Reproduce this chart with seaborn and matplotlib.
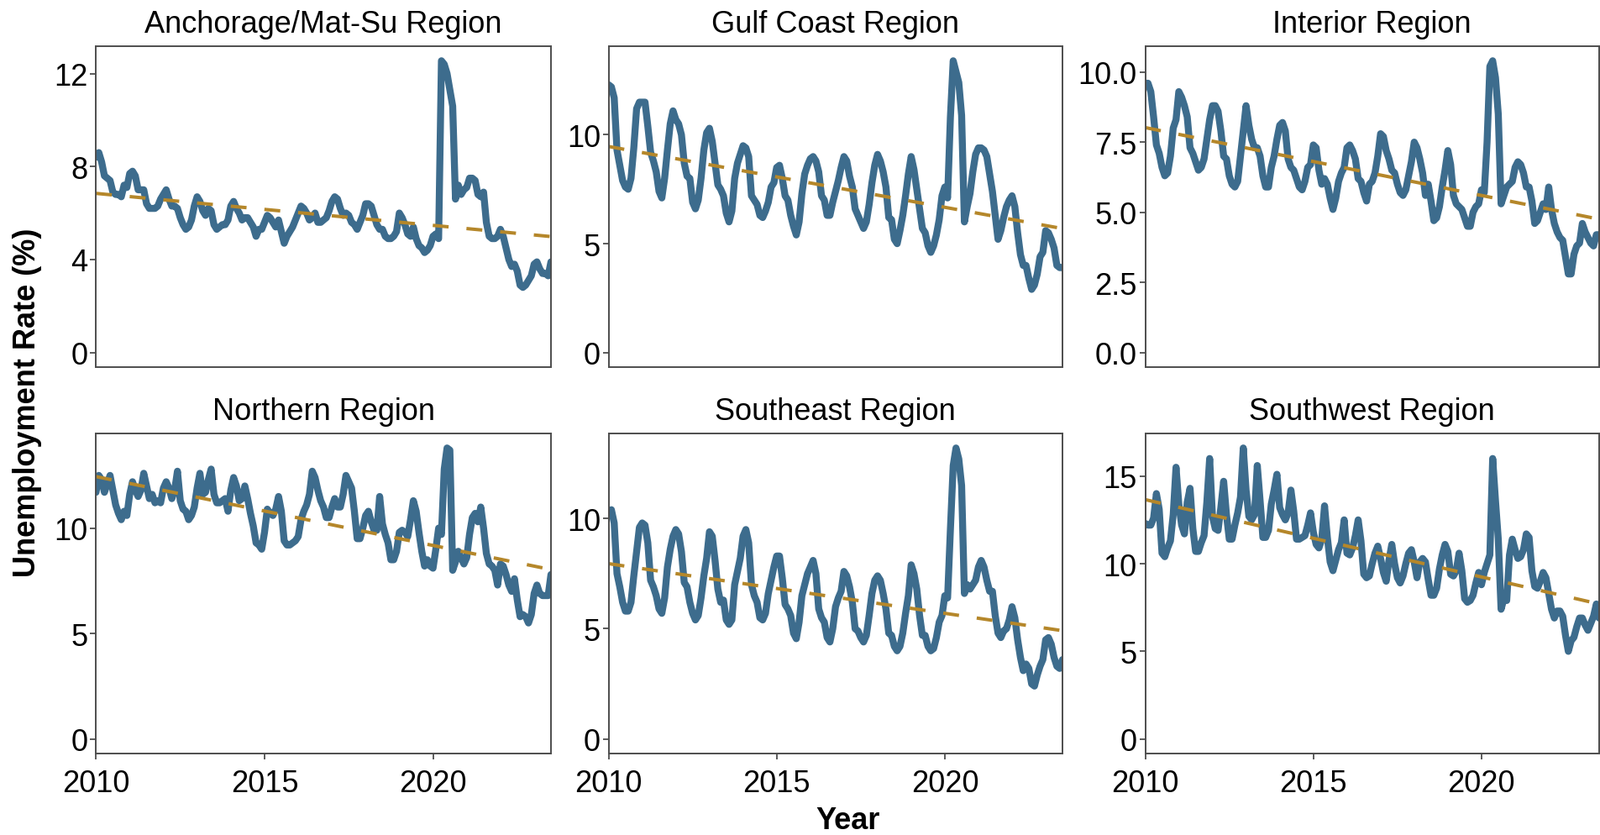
import numpy as np
import pandas as pd
import matplotlib
matplotlib.use("Agg")
import matplotlib.pyplot as plt
from matplotlib import font_manager
import seaborn as sns

# ---------------- data (monthly, Jan 2010 - Jul 2023) ----------------
regions = ["Anchorage/Mat-Su Region", "Gulf Coast Region", "Interior Region",
           "Northern Region", "Southeast Region", "Southwest Region"]

anchorage = [
    8.4, 8.6, 8.2, 7.6, 7.5, 7.4, 6.9, 6.8, 6.8, 6.7, 7.2, 7.1,
    7.7, 7.8, 7.6, 7.0, 7.0, 7.0, 6.4, 6.2, 6.2, 6.2, 6.3, 6.6,
    6.8, 7.0, 6.6, 6.3, 6.3, 6.2, 5.8, 5.5, 5.3, 5.4, 5.7, 6.3,
    6.7, 6.5, 6.1, 5.9, 6.2, 6.1, 5.5, 5.3, 5.4, 5.5, 5.5, 5.7,
    6.3, 6.5, 6.2, 6.0, 5.7, 5.8, 5.8, 5.6, 5.4, 5.0, 5.3, 5.3,
    5.6, 5.9, 5.8, 5.6, 5.4, 5.7, 5.2, 4.7, 5.0, 5.2, 5.4, 5.7,
    6.0, 6.3, 6.2, 6.0, 5.7, 5.8, 6.0, 5.6, 5.6, 5.7, 5.8, 6.1,
    6.5, 6.7, 6.6, 6.2, 5.9, 6.0, 5.9, 5.6, 5.5, 5.3, 5.6, 5.9,
    6.4, 6.4, 6.3, 5.9, 5.5, 5.3, 5.3, 5.0, 4.9, 4.9, 5.0, 5.2,
    6.0, 5.8, 5.5, 5.1, 5.0, 5.4, 4.9, 4.6, 4.5, 4.3, 4.4, 4.6,
    5.0, 5.1, 4.9, 12.55, 12.4, 12.0, 11.3, 10.6, 6.6, 7.2, 6.8, 7.0,
    7.1, 7.5, 7.5, 7.4, 6.8, 6.7, 6.9, 5.6, 5.0, 4.9, 4.9, 5.0,
    5.3, 5.0, 4.5, 4.0, 3.7, 3.8, 3.5, 2.9, 2.8, 2.9, 3.1, 3.3,
    3.8, 3.9, 3.6, 3.4, 3.4, 3.3, 3.9]

gulf_coast = [
    12.3, 12.2, 11.7, 9.3, 8.6, 7.9, 7.6, 7.5, 8.0, 9.4, 11.2, 11.5,
    11.5, 11.5, 10.4, 9.2, 8.8, 8.3, 7.4, 7.1, 8.0, 9.3, 10.5, 11.1,
    10.7, 10.5, 10.0, 8.7, 8.1, 8.0, 6.9, 6.6, 7.0, 8.0, 9.3, 10.1,
    10.3, 9.7, 8.7, 7.7, 7.5, 7.2, 6.4, 6.0, 6.5, 8.0, 8.7, 9.1,
    9.5, 9.4, 9.0, 7.2, 7.0, 6.8, 6.3, 6.2, 6.5, 6.9, 7.6, 7.8,
    8.5, 8.6, 8.0, 7.2, 7.0, 6.3, 5.8, 5.4, 6.0, 7.3, 8.2, 8.6,
    8.9, 9.0, 8.8, 8.3, 7.2, 7.0, 6.3, 6.3, 6.9, 7.4, 7.9, 8.5,
    9.0, 8.8, 8.1, 7.6, 6.6, 6.3, 6.0, 5.7, 6.0, 6.8, 7.8, 8.6,
    9.1, 8.8, 8.3, 7.6, 6.2, 6.1, 5.2, 5.0, 5.6, 6.3, 7.2, 8.2,
    9.0, 8.4, 7.5, 6.6, 5.7, 5.5, 4.9, 4.6, 4.9, 5.4, 6.1, 7.2,
    7.6, 7.1, 10.8, 13.4, 12.9, 12.4, 10.9, 6.0, 6.7, 7.3, 8.3, 9.1,
    9.4, 9.4, 9.3, 9.0, 8.2, 7.4, 6.3, 5.2, 5.6, 6.2, 6.7, 7.0,
    7.2, 6.7, 5.5, 4.5, 4.0, 4.0, 3.4, 2.9, 3.1, 3.6, 4.4, 4.6,
    5.6, 5.5, 5.2, 4.8, 4.0, 3.9, 3.9]

interior = [
    9.6, 9.6, 9.3, 8.4, 7.4, 7.1, 6.6, 6.3, 6.4, 7.0, 8.0, 8.3,
    9.3, 9.1, 8.8, 8.4, 7.3, 7.1, 6.8, 6.5, 6.6, 6.9, 7.6, 8.3,
    8.8, 8.8, 8.6, 7.9, 7.0, 6.9, 6.3, 6.0, 5.9, 6.1, 7.0, 7.9,
    8.8, 8.1, 7.6, 7.3, 7.3, 7.0, 6.3, 5.9, 5.9, 6.6, 7.0, 7.6,
    8.1, 8.2, 7.9, 6.9, 6.6, 6.5, 6.2, 5.9, 5.8, 6.1, 6.6, 6.7,
    7.4, 7.3, 6.5, 6.0, 6.2, 6.0, 5.5, 5.1, 5.5, 6.1, 6.4, 6.6,
    7.3, 7.4, 7.2, 6.9, 6.2, 6.1, 5.7, 5.4, 6.0, 6.1, 6.4, 7.0,
    7.8, 7.7, 7.2, 6.9, 6.5, 6.4, 6.0, 5.7, 5.6, 5.8, 6.3, 6.8,
    7.5, 7.3, 6.9, 6.4, 5.6, 6.0, 5.4, 4.7, 4.8, 5.2, 5.9, 6.5,
    7.2, 6.7, 5.6, 5.3, 5.2, 5.1, 4.8, 4.5, 4.5, 5.0, 5.2, 5.3,
    5.8, 5.7, 7.5, 10.2, 10.4, 9.8, 8.5, 5.3, 5.6, 5.9, 6.0, 6.1,
    6.6, 6.8, 6.7, 6.4, 5.9, 5.9, 5.4, 4.6, 4.7, 5.0, 5.3, 5.1,
    5.9, 5.1, 4.6, 4.3, 4.1, 4.0, 3.4, 2.8, 2.8, 3.5, 3.8, 3.9,
    4.6, 4.3, 4.1, 3.9, 3.8, 4.2, 4.2]

northern = [
    11.7, 12.5, 12.3, 11.7, 12.1, 12.5, 11.8, 11.1, 10.7, 10.4, 10.8, 10.6,
    11.6, 12.2, 11.8, 11.5, 11.8, 12.6, 12.0, 11.4, 11.6, 11.2, 11.3, 11.2,
    11.9, 12.2, 11.9, 11.4, 11.8, 12.7, 11.3, 10.9, 10.8, 10.4, 10.6, 11.0,
    11.9, 12.6, 11.6, 11.7, 12.3, 12.8, 11.6, 11.2, 11.2, 11.3, 11.4, 10.8,
    11.8, 12.4, 12.0, 11.3, 11.4, 12.0, 11.4, 10.7, 10.1, 9.3, 9.2, 9.0,
    9.8, 10.9, 10.7, 10.6, 10.9, 11.5, 10.8, 9.4, 9.2, 9.2, 9.3, 9.4,
    9.6, 10.4, 10.8, 11.1, 11.6, 12.7, 12.4, 11.8, 11.3, 11.0, 10.5, 10.5,
    11.0, 11.4, 11.0, 11.0, 11.6, 12.5, 12.2, 11.9, 10.8, 9.5, 9.5, 10.0,
    10.6, 10.8, 10.3, 9.9, 9.9, 11.5, 10.2, 9.7, 9.3, 8.5, 8.5, 8.9,
    9.8, 9.9, 9.8, 9.6, 10.4, 11.3, 10.8, 9.8, 8.9, 8.2, 8.5, 8.2,
    8.1, 9.0, 10.0, 9.7, 12.8, 13.8, 13.7, 8.0, 8.4, 8.9, 8.6, 8.3,
    8.6, 9.7, 10.5, 10.7, 10.3, 11.0, 10.0, 8.8, 8.3, 8.2, 8.0, 7.3,
    8.3, 8.2, 7.8, 7.3, 7.0, 7.6, 6.6, 5.8, 5.9, 5.8, 5.5, 5.9,
    6.9, 7.3, 6.9, 6.8, 6.8, 6.8, 7.8]

southeast = [
    10.3, 10.4, 9.8, 7.5, 6.9, 6.2, 5.8, 5.8, 6.2, 7.4, 8.5, 9.6,
    9.8, 9.7, 8.9, 7.2, 6.9, 6.5, 5.9, 5.7, 6.4, 7.8, 8.6, 9.2,
    9.5, 9.3, 8.5, 7.1, 6.9, 6.2, 5.7, 5.4, 5.6, 6.4, 7.4, 8.2,
    9.4, 9.2, 8.1, 6.8, 6.2, 6.3, 5.4, 5.2, 5.4, 7.0, 7.6, 8.2,
    9.2, 9.5, 8.9, 7.0, 6.5, 6.2, 5.5, 5.4, 5.7, 6.6, 7.2, 7.8,
    8.3, 8.3, 7.3, 6.1, 5.9, 5.6, 4.8, 4.55, 5.3, 6.5, 7.0, 7.5,
    7.8, 8.1, 7.5, 5.9, 5.5, 5.3, 4.6, 4.4, 5.0, 6.0, 6.4, 6.7,
    7.6, 7.4, 6.9, 6.2, 5.0, 4.9, 4.6, 4.4, 4.7, 5.6, 6.6, 7.2,
    7.4, 7.2, 6.6, 5.9, 4.8, 4.7, 4.2, 4.0, 4.2, 4.8, 5.7, 6.5,
    7.9, 7.5, 6.8, 5.6, 4.7, 4.7, 4.2, 4.0, 4.1, 4.6, 5.3, 5.6,
    6.5, 6.4, 9.5, 12.4, 13.2, 12.7, 11.5, 6.6, 7.0, 6.8, 7.0, 7.2,
    7.8, 8.1, 7.8, 7.2, 6.7, 6.7, 5.6, 4.8, 4.6, 4.9, 5.0, 5.4,
    6.0, 5.5, 4.5, 3.7, 3.1, 3.4, 3.2, 2.5, 2.4, 2.9, 3.3, 3.6,
    4.5, 4.6, 4.3, 3.7, 3.3, 3.2, 3.6]

southwest = [
    12.3, 12.2, 12.2, 12.6, 14.0, 13.1, 10.6, 10.4, 10.9, 11.3, 12.8, 15.5,
    13.4, 12.2, 11.7, 13.5, 14.3, 12.0, 10.7, 10.7, 11.2, 11.6, 13.5, 16.0,
    12.7, 12.0, 11.9, 13.2, 14.7, 12.8, 11.4, 11.4, 12.2, 12.9, 13.8, 16.6,
    14.2, 12.7, 12.5, 12.8, 15.6, 13.6, 11.5, 11.5, 11.9, 13.4, 14.2, 15.1,
    13.2, 12.8, 12.5, 12.9, 14.2, 13.0, 11.4, 11.4, 11.5, 11.6, 12.2, 12.9,
    11.8, 11.1, 10.9, 11.4, 13.3, 11.5, 10.1, 9.6, 10.2, 10.8, 11.2, 12.5,
    10.6, 10.5, 10.9, 11.6, 12.5, 11.3, 9.4, 9.2, 9.3, 10.0, 10.6, 11.0,
    10.3, 9.5, 9.0, 10.2, 11.1, 10.0, 9.2, 8.9, 9.3, 10.0, 10.6, 10.8,
    10.1, 9.2, 10.1, 10.3, 10.1, 9.1, 8.2, 8.2, 8.6, 9.7, 10.5, 11.1,
    10.7, 9.4, 9.3, 9.6, 10.6, 9.6, 8.0, 7.8, 7.9, 8.2, 8.9, 9.5,
    8.8, 9.5, 10.0, 10.5, 16.0, 13.6, 11.4, 7.4, 8.0, 7.9, 10.5, 11.4,
    10.8, 10.3, 10.4, 10.8, 11.7, 11.5, 9.6, 8.7, 8.6, 9.0, 9.5, 9.2,
    8.3, 7.4, 6.9, 7.3, 7.3, 7.0, 5.9, 5.0, 5.6, 5.8, 6.4, 6.9,
    6.9, 6.5, 6.2, 6.6, 7.0, 7.7, 6.9]

series = [anchorage, gulf_coast, interior, northern, southeast, southwest]
y_ticks = [[0, 4, 8, 12], [0, 5, 10], [0, 2.5, 5, 7.5, 10],
           [0, 5, 10], [0, 5, 10], [0, 5, 10, 15]]
y_ticklabels = [["0", "4", "8", "12"], ["0", "5", "10"],
                ["0.0", "2.5", "5.0", "7.5", "10.0"],
                ["0", "5", "10"], ["0", "5", "10"], ["0", "5", "10", "15"]]
x_ticks = [2010, 2015, 2020]
x_ticklabels = ["2010", "2015", "2020"]
start_year = 2010

# ---------------- style ----------------
LINE_COL = "#3D6C8D"
TREND_COL = "#B5872A"
SPINE_COL = "#4D4D4D"

sns.set_theme(style="white")


def have_font(name):
    try:
        font_manager.findfont(font_manager.FontProperties(family=name),
                              fallback_to_default=False)
        return True
    except Exception:
        return False


if have_font("Liberation Sans Narrow"):
    FAM = ["Liberation Sans Narrow", "DejaVu Sans"]
    FS = 30
else:
    FAM = ["Liberation Sans", "DejaVu Sans"]
    FS = 26
plt.rcParams["font.family"] = FAM
plt.rcParams["text.color"] = "black"
plt.rcParams["axes.labelcolor"] = "black"
plt.rcParams["xtick.color"] = "black"
plt.rcParams["ytick.color"] = "black"

W, H = 1905, 995
fig = plt.figure(figsize=(W / 100, H / 100), dpi=100)

col_px = [(114.3, 656.0), (724.6, 1265.0), (1363.5, 1904.0)]
row_px = [(56.0, 438.0), (517.0, 898.0)]

for k, (name, vals) in enumerate(zip(regions, series)):
    r, c = divmod(k, 3)
    x0, x1 = col_px[c]
    y0, y1 = row_px[r]
    ax = fig.add_axes([x0 / W, 1 - y1 / H, (x1 - x0) / W, (y1 - y0) / H])
    n = len(vals)
    df = pd.DataFrame({"year": start_year + np.arange(n) / 12.0,
                       "rate": vals})
    sns.lineplot(data=df, x="year", y="rate", ax=ax, color=LINE_COL,
                 lw=6.0, solid_capstyle="round", solid_joinstyle="round")
    sns.regplot(data=df, x="year", y="rate", ax=ax, scatter=False, ci=None,
                truncate=True,
                line_kws={"color": TREND_COL, "lw": 2.9,
                          "ls": (0, (4.7, 5.3))})
    ax.set_xlim(df["year"].min(), df["year"].max())
    vmax = max(vals)
    ax.set_ylim(-0.05 * vmax, 1.05 * vmax)
    ax.set_yticks(y_ticks[k])
    ax.set_yticklabels(y_ticklabels[k], fontsize=FS, color="black")
    ax.set_xticks(x_ticks)
    if r == 1:
        ax.set_xticklabels(x_ticklabels, fontsize=FS, color="black")
        ax.tick_params(axis="x", length=5, width=1.3, color=SPINE_COL,
                       pad=8, direction="out", bottom=True)
    else:
        ax.set_xticklabels([])
        ax.tick_params(axis="x", length=0, bottom=False)
    ax.tick_params(axis="y", length=5, width=1.3, color=SPINE_COL, pad=2,
                   direction="out", left=True)
    ax.set_xlabel("")
    ax.set_ylabel("")
    ax.grid(False)
    for sp in ax.spines.values():
        sp.set_color(SPINE_COL)
        sp.set_linewidth(1.4)
        sp.set_visible(True)
    ax.set_title(name, fontsize=FS, pad=12, color="black")

fig.text(33 / W, 1 - 479 / H, "Unemployment Rate (%)", rotation=90,
         ha="center", va="center", fontsize=FS, fontweight="bold",
         color="black")
fig.text(1010 / W, 1 - 978 / H, "Year", ha="center", va="center",
         fontsize=FS, fontweight="bold", color="black")

fig.savefig("out.png", dpi=100, facecolor="white")
